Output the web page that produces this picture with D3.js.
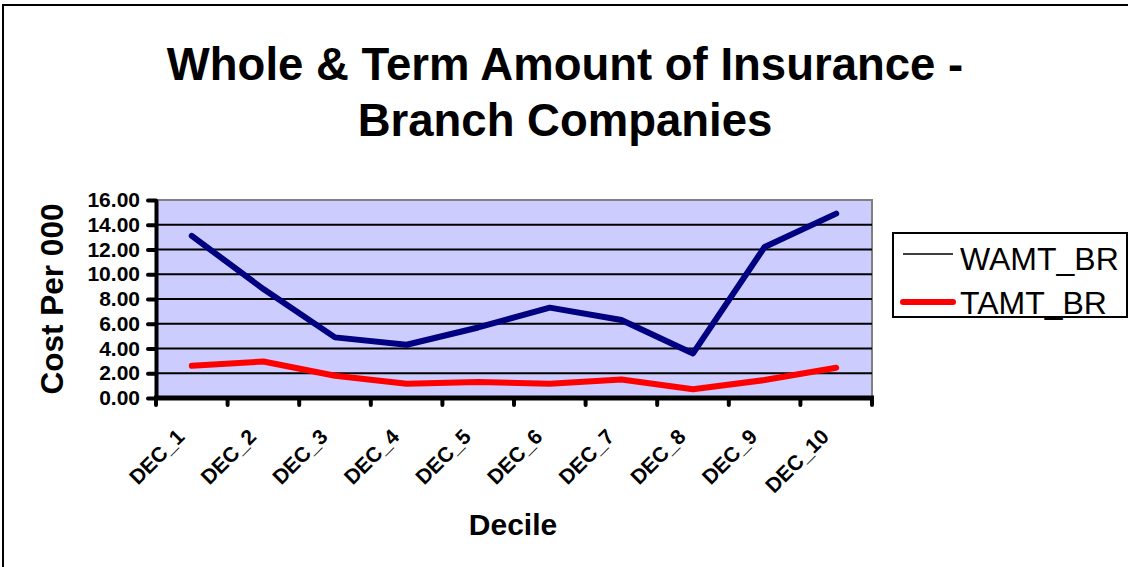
<!DOCTYPE html>
<html>
<head>
<meta charset="utf-8">
<script src="https://cdn.jsdelivr.net/npm/d3@7"></script>
<style>
  body { margin: 0; background: #fff; }
  svg { display: block; font-family: Arial, "Liberation Sans", sans-serif; }
</style>
</head>
<body>
<svg id="chart" width="1128" height="567"></svg>
<script>
var deciles = ["DEC_1","DEC_2","DEC_3","DEC_4","DEC_5","DEC_6","DEC_7","DEC_8","DEC_9","DEC_10"];
var wamt_br = [13.1, 8.8, 4.9, 4.3, 5.7, 7.3, 6.3, 3.6, 12.2, 14.9];
var tamt_br = [2.6, 2.95, 1.8, 1.15, 1.3, 1.15, 1.5, 0.7, 1.45, 2.45];
var y_ticks = [0, 2, 4, 6, 8, 10, 12, 14, 16];
var title_lines = ["Whole & Term Amount of Insurance -", "Branch Companies"];

Visualizer = function() {
    this.svg = d3.select('#chart');
    this.left = 156;
    this.right = 872;
    this.top = 200;
    this.bottom = 398;

    this.x = d3.scaleBand().domain(deciles).range([this.left, this.right]);
    this.y = d3.scaleLinear().domain([0, 16]).range([this.bottom, this.top]);

    this.render = function() {
        this.draw_frame();
        this.draw_plot_area();
        this.draw_series();
        this.draw_axes();
        this.draw_labels();
        this.draw_legend();
    }

    this.draw_frame = function() {
        this.svg.append("rect")
            .attr("x", 3).attr("y", 5)
            .attr("width", 1140).attr("height", 580)
            .attr("fill", "none").attr("stroke", "#000").attr("stroke-width", 2);
    }

    this.draw_plot_area = function() {
        var y = this.y;
        this.svg.append("rect")
            .attr("x", this.left).attr("y", this.top)
            .attr("width", this.right - this.left).attr("height", this.bottom - this.top)
            .attr("fill", "#ccccff").attr("stroke", "#808080").attr("stroke-width", 2);
        this.svg.append("g").selectAll("line")
            .data(y_ticks.filter(function(d) { return d > 0 && d < 16; }))
            .enter().append("line")
            .attr("x1", this.left).attr("x2", this.right)
            .attr("y1", function(d) { return y(d); })
            .attr("y2", function(d) { return y(d); })
            .attr("stroke", "#000").attr("stroke-width", 2);
    }

    this.draw_series = function() {
        var x = this.x, y = this.y;
        var line = d3.line()
            .x(function(d, i) { return x(deciles[i]) + x.bandwidth() / 2; })
            .y(function(d) { return y(d); });
        this.svg.append("path").datum(wamt_br)
            .attr("d", line).attr("fill", "none")
            .attr("stroke", "#000080").attr("stroke-width", 6)
            .attr("stroke-linecap", "round").attr("stroke-linejoin", "round");
        this.svg.append("path").datum(tamt_br)
            .attr("d", line).attr("fill", "none")
            .attr("stroke", "#ff0000").attr("stroke-width", 6)
            .attr("stroke-linecap", "round").attr("stroke-linejoin", "round");
    }

    this.draw_axes = function() {
        var x = this.x, y = this.y;
        var yAxis = this.svg.append("g")
            .attr("transform", "translate(" + this.left + ",0)")
            .call(d3.axisLeft(y).tickValues(y_ticks).tickFormat(d3.format(".2f"))
                  .tickSizeInner(8).tickSizeOuter(0).tickPadding(8));
        yAxis.select(".domain").attr("stroke", "#000").attr("stroke-width", 4);
        yAxis.selectAll(".tick line").attr("stroke", "#000").attr("stroke-width", 4)
            .attr("stroke-linecap", "round");
        yAxis.selectAll(".tick text")
            .attr("font-size", 21).attr("font-weight", "bold").attr("fill", "#000")
            .attr("font-family", "Arial, 'Liberation Sans', sans-serif");

        // ticks on band edges for the category axis
        var edges = deciles.map(function(d) { return x(d); }).concat([this.right]);
        var xAxis = this.svg.append("g");
        xAxis.append("line")
            .attr("x1", this.left - 2).attr("x2", this.right + 2)
            .attr("y1", this.bottom).attr("y2", this.bottom)
            .attr("stroke", "#000").attr("stroke-width", 5);
        xAxis.selectAll("line.tk").data(edges).enter().append("line")
            .attr("class", "tk")
            .attr("x1", function(d) { return d; }).attr("x2", function(d) { return d; })
            .attr("y1", this.bottom).attr("y2", this.bottom + 7)
            .attr("stroke", "#000").attr("stroke-width", 4).attr("stroke-linecap", "round");
        var bottom = this.bottom;
        xAxis.selectAll("text").data(deciles).enter().append("text")
            .attr("transform", function(d) {
                return "translate(" + (x(d) + x.bandwidth() / 2 - 6) + "," + (bottom + 40) + ") rotate(-45)";
            })
            .attr("text-anchor", "end")
            .attr("font-size", 21).attr("font-weight", "bold")
            .text(function(d) { return d; });
    }

    this.draw_labels = function() {
        this.svg.append("g").selectAll("text").data(title_lines).enter().append("text")
            .attr("x", 565).attr("y", function(d, i) { return 80 + i * 56; })
            .attr("text-anchor", "middle")
            .attr("font-size", 45.5).attr("font-weight", "bold")
            .text(function(d) { return d; });
        this.svg.append("text")
            .attr("transform", "translate(63,299) rotate(-90)")
            .attr("text-anchor", "middle")
            .attr("font-size", 31.5).attr("font-weight", "bold")
            .text("Cost Per 000");
        this.svg.append("text")
            .attr("x", 513).attr("y", 535)
            .attr("text-anchor", "middle")
            .attr("font-size", 30).attr("font-weight", "bold")
            .text("Decile");
    }

    this.draw_legend = function() {
        var g = this.svg.append("g");
        g.append("rect")
            .attr("x", 893).attr("y", 233).attr("width", 234).attr("height", 84)
            .attr("fill", "#fff").attr("stroke", "#000").attr("stroke-width", 2);
        var items = [
            {name: "WAMT_BR", color: "#000", width: 1.5, y: 254, ty: 270},
            {name: "TAMT_BR", color: "#ff0000", width: 6, y: 302, ty: 314}
        ];
        items.forEach(function(it) {
            g.append("line")
                .attr("x1", 903).attr("x2", 953).attr("y1", it.y).attr("y2", it.y)
                .attr("stroke", it.color).attr("stroke-width", it.width)
                .attr("stroke-linecap", it.width > 2 ? "round" : "butt");
            g.append("text")
                .attr("x", 960).attr("y", it.ty)
                .attr("font-size", 32)
                .text(it.name);
        });
    }
}

new Visualizer().render();
</script>
</body>
</html>
